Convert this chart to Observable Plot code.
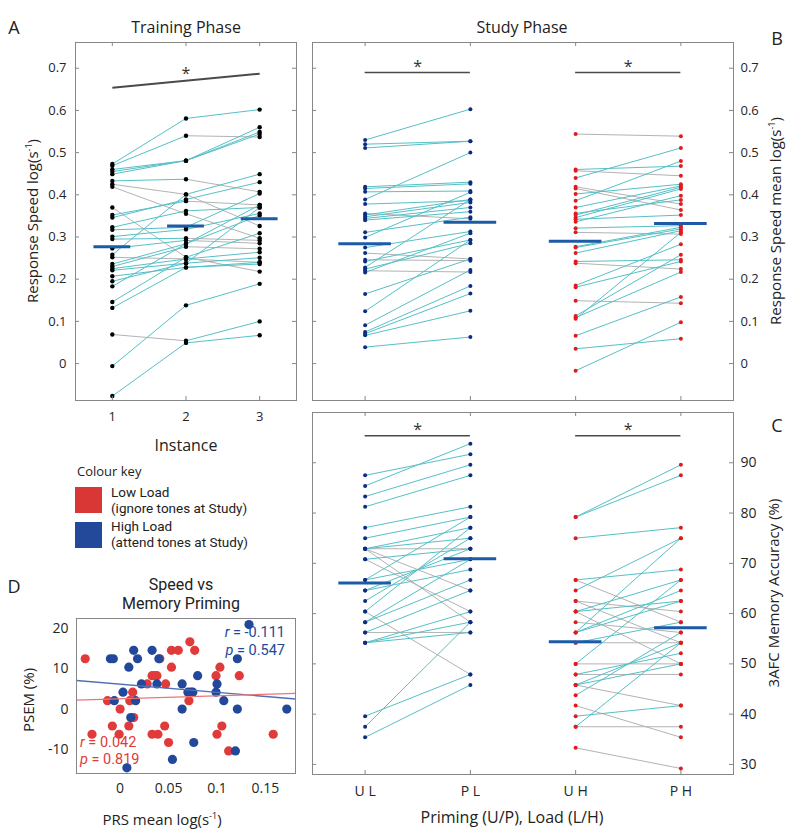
<!DOCTYPE html>
<html><head><meta charset="utf-8">
<script src="https://cdn.jsdelivr.net/npm/d3@7"></script>
<script src="https://cdn.jsdelivr.net/npm/@observablehq/plot@0.6"></script>
<style>
body{margin:0;background:#fff;}
#fig{position:relative;width:800px;height:836px;font-family:'Open Sans',sans-serif;color:#222;overflow:hidden;background:#fff;}
.t{position:absolute;white-space:nowrap;line-height:1;}
.r{font-family:Roboto,sans-serif;}
</style></head><body><div id="fig"></div>
<script>
// ---------------- DATA ----------------
const instances = [1, 2, 3];
const trainingSpeed = [
  [0.473,0.581,0.602],[0.469,0.540,0.537],[0.460,0.481,0.560],[0.455,0.481,0.549],
  [0.449,0.481,0.544],[0.433,0.437,0.407],[0.425,0.401,0.326],[0.419,0.355,0.297],
  [0.370,0.252,0.218],[0.352,0.385,0.376],[0.346,0.389,0.430],[0.323,0.362,0.370],
  [0.317,0.323,0.403],[0.301,0.318,0.356],[0.295,0.297,0.292],[0.273,0.292,0.285],
  [0.258,0.401,0.449],[0.252,0.248,0.240],[0.236,0.284,0.351],[0.230,0.277,0.272],
  [0.225,0.248,0.264],[0.221,0.238,0.251],[0.207,0.228,0.236],[0.195,0.238,0.370],
  [0.183,0.284,0.376],[0.146,0.252,0.309],[0.132,0.228,0.240],[0.069,0.054,0.100],
  [-0.006,0.138,0.189],[-0.077,0.049,0.067]
];
const trainingMeans = [0.277, 0.326, 0.343];
const trainingSig = [1, 0.654, 3, 0.687];

const studyConditions = ["U L", "P L", "U H", "P H"];
const speedLoadL = [
  [0.530,0.603],[0.520,0.527],[0.511,0.527],[0.419,0.430],[0.415,0.426],[0.407,0.409],
  [0.389,0.500],[0.378,0.386],[0.356,0.343],[0.352,0.389],[0.348,0.382],[0.344,0.370],
  [0.340,0.360],[0.311,0.347],[0.299,0.406],[0.275,0.313],[0.262,0.248],[0.246,0.244],
  [0.242,0.293],[0.228,0.389],[0.224,0.285],[0.220,0.217],[0.216,0.309],[0.165,0.248],
  [0.124,0.293],[0.091,0.222],[0.075,0.184],[0.071,0.166],[0.067,0.125],[0.039,0.063]
];
const speedLoadH = [
  [0.544,0.539],[0.460,0.468],[0.457,0.445],[0.440,0.511],[0.419,0.378],[0.415,0.364],
  [0.402,0.425],[0.386,0.480],[0.370,0.421],[0.356,0.388],[0.352,0.418],[0.346,0.414],
  [0.342,0.352],[0.336,0.398],[0.321,0.327],[0.311,0.307],[0.277,0.323],[0.275,0.319],
  [0.262,0.315],[0.242,0.246],[0.238,0.224],[0.185,0.283],[0.181,0.242],[0.149,0.143],
  [0.113,0.258],[0.109,0.217],[0.106,0.311],[0.066,0.158],[0.035,0.059],[-0.017,0.098]
];
const studySpeedMeans = [0.284, 0.335, 0.290, 0.332];
const studySpeedSig = 0.690;

const accuracyLoadL = [
  [87.5,91.7],[85.4,93.8],[83.3,89.6],[81.25,87.5],[77.1,81.25],[75,79.2],[72.9,77.1],
  [72.9,75],[72.9,72.9],[72.9,64.6],[72.9,58.3],[70.8,72.9],[70.8,60.4],[66.7,70.8],
  [66.7,79.2],[64.6,68.75],[64.6,72.9],[62.5,75],[60.4,77.1],[60.4,47.9],[58.3,66.7],
  [58.3,70.8],[56.25,56.25],[56.25,64.6],[54.2,58.3],[54.2,56.25],[54.2,60.4],
  [39.6,47.9],[37.5,58.3],[35.4,45.8]
];
const accuracyLoadH = [
  [79.2,89.6],[79.2,87.5],[75,77.1],[66.7,68.75],[66.7,58.3],[64.6,75],[62.5,60.4],
  [62.5,54.2],[60.4,66.7],[60.4,62.5],[60.4,50],[58.3,56.25],[56.25,75],[56.25,64.6],
  [56.25,62.5],[54.2,58.3],[54.2,54.2],[50,66.7],[50,50],[47.9,47.9],[47.9,52.1],
  [45.8,54.2],[45.8,50],[45.8,41.7],[43.75,56.25],[41.7,35.4],[39.6,41.7],[37.5,54.2],
  [37.5,37.5],[33.3,29.2]
];
const accuracyMeans = [66.1, 70.9, 54.4, 57.2];
const accuracySig = 95.4;

const scatterLow = [ // red
  [-0.036,12.5],[-0.029,-6.25],[-0.013,2.1],[-0.008,-4.2],[0.000,0],[-0.001,-6.25],
  [0.009,-4.2],[0.010,2.1],[0.014,-2.1],[0.013,4.2],[0.028,6.25],[0.033,8.3],[0.036,8.3],
  [0.038,8.3],[0.033,-6.25],[0.039,-6.25],[0.041,12.5],[0.046,-4.2],[0.047,6.25],
  [0.050,-8.3],[0.053,14.6],[0.053,10.4],[0.060,14.6],[0.071,2.1],[0.072,16.7],
  [0.077,14.6],[0.099,8.3],[0.100,-6.25],[0.103,10.4],[0.105,-4.2],[0.112,-10.4],
  [0.123,8.3],[0.158,-6.25]
];
const scatterHigh = [ // blue
  [-0.010,12.5],[-0.007,12.5],[-0.006,2.1],[0.003,4.2],[0.007,-14.6],[0.009,10.4],
  [0.011,-2.1],[0.014,14.6],[0.016,2.1],[0.018,12.5],[0.022,6.25],[0.033,14.6],
  [0.038,6.25],[0.040,12.5],[0.054,-12.5],[0.064,6.25],[0.064,0],[0.070,4.2],[0.073,4.2],
  [0.075,4.2],[0.076,-8.3],[0.080,8.3],[0.099,4.2],[0.100,6.25],[0.107,2.1],[0.119,-10.4],
  [0.121,12.5],[0.121,0],[0.133,21],[0.172,0]
];
const fitLow = [[-0.045,2.25],[0.181,3.9]];
const fitHigh = [[-0.045,7.1],[0.181,2.5]];
const statsLow = ["0.042", "0.819"];
const statsHigh = ["-0.111", "0.547"];

const speedTicks = [0,0.1,0.2,0.3,0.4,0.5,0.6,0.7];
const accTicks = [30,40,50,60,70,80,90];
const prsTicks = [0,0.05,0.1,0.15];
const psemTicks = [-10,0,10,20];

// ---------------- STYLE ----------------
const fontFamily = "'Open Sans', sans-serif";
const cyan = "#55c0c7", grey = "#b3b3b3", frameC = "#878787", meanC = "#1d5ba6";
const navy = "#0b2d82", red = "#e31a1c";
const dotRed = "#e03a3a", dotBlue = "#21489a";
const fig = document.getElementById("fig");

function place(svg, left, top) {
  svg.style.position = "absolute"; svg.style.left = left + "px"; svg.style.top = top + "px";
  svg.style.overflow = "visible";
  fig.appendChild(svg);
}
function txt(html, x, y, {size=14, anchor="middle", rotate=false, color="#222", cls=""} = {}) {
  const d = document.createElement("div");
  d.className = "t " + cls; d.innerHTML = html;
  d.style.left = x + "px"; d.style.top = y + "px"; d.style.fontSize = size + "px"; d.style.color = color;
  const tx = anchor === "middle" ? "-50%" : anchor === "end" ? "-100%" : "0";
  d.style.transform = `translate(${tx},-50%)` + (rotate ? " rotate(-90deg)" : "");
  fig.appendChild(d);
}
function boxTicks(xTicks, yTicks, xDom, yDom, pxX, pxY, len = 4) {
  const dx = len / pxX, dy = len / pxY;
  return [
    Plot.ruleX(xTicks, {x: d => d, y1: yDom[0], y2: yDom[0] + dy, stroke: frameC}),
    Plot.ruleX(xTicks, {x: d => d, y1: yDom[1], y2: yDom[1] - dy, stroke: frameC}),
    Plot.ruleY(yTicks, {y: d => d, x1: xDom[0], x2: xDom[0] + dx, stroke: frameC}),
    Plot.ruleY(yTicks, {y: d => d, x1: xDom[1], x2: xDom[1] - dx, stroke: frameC})
  ];
}
function pairLinks(rows, xs) {
  const out = [];
  rows.forEach(r => { for (let i = 0; i < r.length - 1; i++) out.push([xs[i], r[i], xs[i+1], r[i+1]]); });
  return out;
}
function pairDots(rows, xs) { return rows.flatMap(r => r.map((v, i) => [xs[i], v])); }
function linkMarks(links) {
  return [
    Plot.link(links.filter(l => l[3] <= l[1]), {x1: d => d[0], y1: d => d[1], x2: d => d[2], y2: d => d[3], stroke: grey, strokeWidth: 1}),
    Plot.link(links.filter(l => l[3] > l[1]), {x1: d => d[0], y1: d => d[1], x2: d => d[2], y2: d => d[3], stroke: cyan, strokeWidth: 1})
  ];
}
function meanMarks(means, xs) {
  return Plot.ruleY(means.map((m, i) => [xs[i], m]), {x1: d => d[0] - 0.25, x2: d => d[0] + 0.25, y: d => d[1], stroke: meanC, strokeWidth: 3});
}
const baseStyle = {fontFamily, fontSize: "13px", color: "#262626", background: "transparent", overflow: "visible"};
const fmt = d => String(d);

// ---------------- PANEL A ----------------
const yDomSpeed = [-0.0875, 0.761];
{
  const W = 310, H = 430, ml = 75, mr = 14, mt = 42, mb = 30;
  const xDom = [0.5, 3.5];
  const pxX = (W - ml - mr) / (xDom[1] - xDom[0]), pxY = (H - mt - mb) / (yDomSpeed[1] - yDomSpeed[0]);
  const links = pairLinks(trainingSpeed, instances);
  const svg = Plot.plot({
    width: W, height: H, marginLeft: ml, marginRight: mr, marginTop: mt, marginBottom: mb,
    x: {domain: xDom, axis: null}, y: {domain: yDomSpeed, axis: null}, style: baseStyle,
    marks: [
      ...linkMarks(links),
      Plot.dot(pairDots(trainingSpeed, instances), {x: d => d[0], y: d => d[1], r: 2.2, fill: "#000"}),
      meanMarks(trainingMeans, instances),
      Plot.link([trainingSig], {x1: d => d[0], y1: d => d[1], x2: d => d[2], y2: d => d[3], stroke: "#4a4a4a", strokeWidth: 2}),
      Plot.text([[2, 0.693]], {x: d => d[0], y: d => d[1], text: () => "*", fontSize: 16, dy: 3, fill: "#333"}),
      Plot.frame({stroke: frameC}),
      ...boxTicks(instances, speedTicks, xDom, yDomSpeed, pxX, pxY),
      Plot.axisY(speedTicks, {anchor: "left", tickSize: 0, tickPadding: 9, tickFormat: fmt, label: null}),
      Plot.axisX(instances, {anchor: "bottom", tickSize: 0, tickPadding: 11, tickFormat: fmt, label: null})
    ]
  });
  place(svg, 0, 0);
}

// ---------------- PANEL B ----------------
const xDomStudy = [0.5, 4.5];
{
  const W = 500, H = 430, ml = 12, mr = 67, mt = 42, mb = 30;
  const pxX = (W - ml - mr) / (xDomStudy[1] - xDomStudy[0]), pxY = (H - mt - mb) / (yDomSpeed[1] - yDomSpeed[0]);
  const linksL = pairLinks(speedLoadL, [1, 2]), linksH = pairLinks(speedLoadH, [3, 4]);
  const svg = Plot.plot({
    width: W, height: H, marginLeft: ml, marginRight: mr, marginTop: mt, marginBottom: mb,
    x: {domain: xDomStudy, axis: null}, y: {domain: yDomSpeed, axis: null}, style: baseStyle,
    marks: [
      ...linkMarks(linksL), ...linkMarks(linksH),
      Plot.dot(pairDots(speedLoadL, [1, 2]), {x: d => d[0], y: d => d[1], r: 2, fill: navy}),
      Plot.dot(pairDots(speedLoadH, [3, 4]), {x: d => d[0], y: d => d[1], r: 2, fill: red}),
      meanMarks(studySpeedMeans, [1, 2, 3, 4]),
      Plot.ruleY([[1, 2], [3, 4]], {x1: d => d[0], x2: d => d[1], y: studySpeedSig, stroke: "#4a4a4a", strokeWidth: 1.5}),
      Plot.text([1.5, 3.5], {x: d => d, y: studySpeedSig, text: () => "*", fontSize: 16, dy: -6, fill: "#333"}),
      Plot.frame({stroke: frameC}),
      ...boxTicks([1, 2, 3, 4], speedTicks, xDomStudy, yDomSpeed, pxX, pxY),
      Plot.axisY(speedTicks, {anchor: "right", tickSize: 0, tickPadding: 7, tickFormat: fmt, label: null})
    ]
  });
  place(svg, 300, 0);
}

// ---------------- PANEL C ----------------
{
  const W = 500, H = 436, ml = 12, mr = 67, mt = 12, mb = 62;
  const yDom = [28, 100];
  const pxX = (W - ml - mr) / (xDomStudy[1] - xDomStudy[0]), pxY = (H - mt - mb) / (yDom[1] - yDom[0]);
  const linksL = pairLinks(accuracyLoadL, [1, 2]), linksH = pairLinks(accuracyLoadH, [3, 4]);
  const svg = Plot.plot({
    width: W, height: H, marginLeft: ml, marginRight: mr, marginTop: mt, marginBottom: mb,
    x: {domain: xDomStudy, axis: null}, y: {domain: yDom, axis: null}, style: baseStyle,
    marks: [
      ...linkMarks(linksL), ...linkMarks(linksH),
      Plot.dot(pairDots(accuracyLoadL, [1, 2]), {x: d => d[0], y: d => d[1], r: 2, fill: navy}),
      Plot.dot(pairDots(accuracyLoadH, [3, 4]), {x: d => d[0], y: d => d[1], r: 2, fill: red}),
      meanMarks(accuracyMeans, [1, 2, 3, 4]),
      Plot.ruleY([[1, 2], [3, 4]], {x1: d => d[0], x2: d => d[1], y: accuracySig, stroke: "#4a4a4a", strokeWidth: 1.5}),
      Plot.text([1.5, 3.5], {x: d => d, y: accuracySig, text: () => "*", fontSize: 16, dy: -6, fill: "#333"}),
      Plot.frame({stroke: frameC}),
      ...boxTicks([1, 2, 3, 4], accTicks, xDomStudy, yDom, pxX, pxY),
      Plot.axisY(accTicks, {anchor: "right", tickSize: 0, tickPadding: 7, tickFormat: fmt, label: null, fontSize: 14}),
      Plot.axisX([1, 2, 3, 4], {anchor: "bottom", tickSize: 0, tickPadding: 12, tickFormat: d => studyConditions[d - 1], label: null, fontSize: 14})
    ]
  });
  place(svg, 300, 400);
}

// ---------------- PANEL D ----------------
{
  const W = 310, H = 236, ml = 76, mr = 15, mt = 18, mb = 63;
  const xDom = [-0.045, 0.181], yDom = [-16, 22.5];
  const svg = Plot.plot({
    width: W, height: H, marginLeft: ml, marginRight: mr, marginTop: mt, marginBottom: mb,
    x: {domain: xDom, axis: null}, y: {domain: yDom, axis: null}, style: baseStyle,
    marks: [
      Plot.dot(scatterLow, {x: d => d[0], y: d => d[1], r: 4.6, fill: dotRed}),
      Plot.dot(scatterHigh, {x: d => d[0], y: d => d[1], r: 4.6, fill: dotBlue}),
      Plot.line(fitHigh, {x: d => d[0], y: d => d[1], stroke: "#4f70b8", strokeWidth: 1.3}),
      Plot.line(fitLow, {x: d => d[0], y: d => d[1], stroke: "#f07474", strokeWidth: 1.3}),
      Plot.frame({stroke: frameC}),
      Plot.axisY(psemTicks, {anchor: "left", tickSize: 0, tickPadding: 8, tickFormat: fmt, label: null, fontSize: 14}),
      Plot.axisX(prsTicks, {anchor: "bottom", tickSize: 0, tickPadding: 10, tickFormat: fmt, label: null, fontSize: 14})
    ]
  });
  place(svg, 0, 600);
}

// ---------------- TEXT ----------------
txt("A", 14, 27, {size: 18});
txt("B", 777, 38, {size: 18});
txt("C", 777, 425, {size: 18});
txt("D", 14, 586, {size: 18});
txt("Training Phase", 186, 27, {size: 16});
txt("Study Phase", 522, 27, {size: 16});
txt("Response Speed log(s<sup style='font-size:9px'>-1</sup>)", 32, 221, {size: 15, rotate: true});
txt("Response Speed mean log(s<sup style='font-size:9px'>-1</sup>)", 775, 221, {size: 15, rotate: true});
txt("3AFC Memory Accuracy (%)", 773, 593, {size: 15, rotate: true});
txt("Instance", 186, 445, {size: 16});
txt("Priming (U/P), Load (L/H)", 512, 817, {size: 16});
txt("Colour key", 77, 471, {size: 13, anchor: "start"});
txt("Low Load", 111, 492.5, {size: 13.5, anchor: "start", cls: "r"});
txt("(ignore tones at Study)", 111, 508.5, {size: 13.5, anchor: "start", cls: "r"});
txt("High Load", 111, 526.5, {size: 13.5, anchor: "start", cls: "r"});
txt("(attend tones at Study)", 111, 542.5, {size: 13.5, anchor: "start", cls: "r"});
txt("Speed vs", 181, 585, {size: 16, cls: "r"});
txt("Memory Priming", 181, 604, {size: 16, cls: "r"});
txt("PSEM (%)", 28, 700, {size: 15, rotate: true});
txt("PRS mean log(s<sup style='font-size:9px'>-1</sup>)", 162, 819, {size: 15});
txt(`<i>r</i> = ${statsHigh[0]}`, 285, 633, {size: 14.5, anchor: "end", color: dotBlue, cls: "r"});
txt(`<i>p</i> = ${statsHigh[1]}`, 285, 650.5, {size: 14.5, anchor: "end", color: dotBlue, cls: "r"});
txt(`<i>r</i> = ${statsLow[0]}`, 80, 742.5, {size: 14.5, anchor: "start", color: dotRed, cls: "r"});
txt(`<i>p</i> = ${statsLow[1]}`, 80, 760, {size: 14.5, anchor: "start", color: dotRed, cls: "r"});
// legend swatches
for (const [c, top] of [["#d93636", 487], ["#23499a", 522]]) {
  const s = document.createElement("div");
  s.style.cssText = `position:absolute;left:75px;top:${top}px;width:27px;height:26px;background:${c};`;
  fig.appendChild(s);
}
</script></body></html>
